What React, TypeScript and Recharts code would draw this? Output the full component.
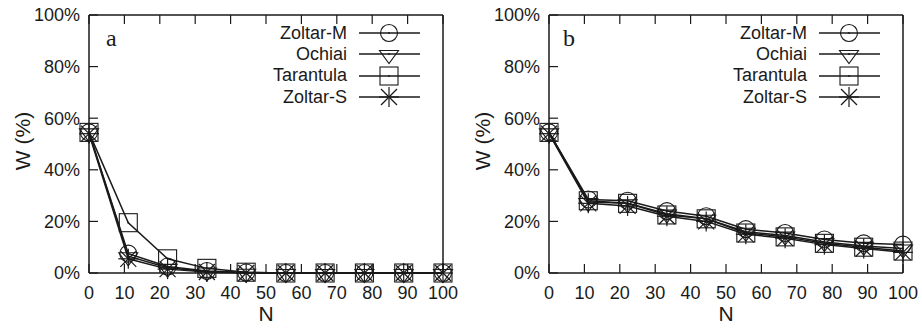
import React from 'react';
import { LineChart, Line, XAxis, YAxis, Legend } from 'recharts';

// N positions of the samples and the axis ticks
const N_VALUES = [0, 11.1, 22.2, 33.3, 44.4, 55.6, 66.7, 77.8, 88.9, 100];
const X_TICKS = [0, 10, 20, 30, 40, 50, 60, 70, 80, 90, 100];
const Y_TICKS = [0, 20, 40, 60, 80, 100];

// panel a
const A_ZOLTAR_M = [54.5, 7.5, 2.5, 0.8, 0.2, 0, 0, 0, 0, 0];
const A_OCHIAI = [54.5, 6.5, 2, 0.6, 0.1, 0, 0, 0, 0, 0];
const A_TARANTULA = [54.5, 19.5, 5.5, 1.8, 0.3, 0, 0, 0, 0, 0];
const A_ZOLTAR_S = [54, 5.5, 1.5, 0.4, 0, 0, 0, 0, 0, 0];

// panel b
const B_ZOLTAR_M = [54.5, 28.5, 28, 24, 22, 17, 15.5, 13, 11.5, 11];
const B_OCHIAI = [54.5, 27.5, 27, 23, 21, 16, 14.5, 12, 10.5, 9.5];
const B_TARANTULA = [54.5, 28, 27, 22.5, 21, 15.5, 14, 11.5, 10, 8.5];
const B_ZOLTAR_S = [54, 27, 26, 22, 20, 15, 13.5, 11, 9.5, 8];

type Shape = 'circle' | 'triangle' | 'square' | 'star';

const SERIES: { key: string; name: string; shape: Shape }[] = [
  { key: 'zoltarM', name: 'Zoltar-M', shape: 'circle' },
  { key: 'ochiai', name: 'Ochiai', shape: 'triangle' },
  { key: 'tarantula', name: 'Tarantula', shape: 'square' },
  { key: 'zoltarS', name: 'Zoltar-S', shape: 'star' },
];

const INK = '#1a1a1a';
const FONT = 'Arial, Helvetica, sans-serif';

const buildRows = (zm: number[], oc: number[], ta: number[], zs: number[]) =>
  N_VALUES.map((n, i) => ({
    n,
    zoltarM: zm[i],
    ochiai: oc[i],
    tarantula: ta[i],
    zoltarS: zs[i],
  }));

const dataA = buildRows(A_ZOLTAR_M, A_OCHIAI, A_TARANTULA, A_ZOLTAR_S);
const dataB = buildRows(B_ZOLTAR_M, B_OCHIAI, B_TARANTULA, B_ZOLTAR_S);

const noLabel = () => '';

function Marker({ shape, cx, cy }: { shape: Shape; cx: number; cy: number }) {
  const common = { fill: 'none', stroke: INK, strokeWidth: 1.1 };
  const dot = <circle cx={cx} cy={cy} r={0.9} fill={INK} />;
  if (shape === 'circle') {
    return (
      <g>
        <circle cx={cx} cy={cy} r={8.5} {...common} />
        {dot}
      </g>
    );
  }
  if (shape === 'triangle') {
    return (
      <g>
        <polygon
          points={`${cx - 9.5},${cy - 3.5} ${cx + 9.5},${cy - 3.5} ${cx},${cy + 9.5}`}
          {...common}
        />
        {dot}
      </g>
    );
  }
  if (shape === 'square') {
    return (
      <g>
        <rect x={cx - 9} y={cy - 9} width={18} height={18} {...common} />
        {dot}
      </g>
    );
  }
  return (
    <g stroke={INK} strokeWidth={1.2}>
      <line x1={cx - 10} y1={cy} x2={cx + 10} y2={cy} />
      <line x1={cx} y1={cy - 10} x2={cx} y2={cy + 10} />
      <line x1={cx - 8} y1={cy - 8} x2={cx + 8} y2={cy + 8} />
      <line x1={cx - 8} y1={cy + 8} x2={cx + 8} y2={cy - 8} />
    </g>
  );
}

function KeyBox() {
  return (
    <div style={{ fontFamily: FONT, fontSize: 18, color: INK }}>
      {SERIES.map((s) => (
        <div key={s.key} style={{ display: 'flex', alignItems: 'center', height: 21.3 }}>
          <span style={{ width: 87, textAlign: 'right', lineHeight: '21px', whiteSpace: 'nowrap' }}>
            {s.name}
          </span>
          <svg width={75} height={22} style={{ marginLeft: 12 }}>
            <line x1={0} y1={11} x2={61} y2={11} stroke={INK} strokeWidth={1.4} />
            <Marker shape={s.shape} cx={30} cy={11} />
          </svg>
        </div>
      ))}
    </div>
  );
}

function Panel({ data, letter, shift }: { data: any[]; letter: string; shift: number }) {
  const tickStyle = { fontSize: 18, fill: INK, fontFamily: FONT };
  const lineStyle = { stroke: INK, strokeWidth: 1.2 };
  const frameStyle = { stroke: INK, strokeWidth: 1.5 };
  return (
    <div style={{ position: 'relative', width: 461, height: 329 }}>
      <LineChart
        width={461}
        height={329}
        data={data}
        margin={{ top: 14, right: 17 + shift, bottom: 0, left: 9 - shift }}
      >
        <XAxis
          dataKey="n"
          type="number"
          domain={[0, 100]}
          ticks={X_TICKS}
          interval={0}
          height={56}
          tickSize={-9}
          tickMargin={22}
          tick={tickStyle}
          tickLine={lineStyle}
          axisLine={frameStyle}
          label={(props: any) => {
            const vb = props.viewBox;
            return (
              <text
                x={vb.x + vb.width / 2}
                y={vb.y + 47.5}
                textAnchor="middle"
                fontSize={21}
                fontFamily={FONT}
                fill={INK}
              >
                N
              </text>
            );
          }}
        />
        {/* mirrored frame: top and right axes carry inward ticks only */}
        <XAxis
          xAxisId="top"
          orientation="top"
          dataKey="n"
          type="number"
          domain={[0, 100]}
          ticks={X_TICKS}
          interval={0}
          height={1}
          tickSize={-9}
          tickFormatter={noLabel}
          tickLine={lineStyle}
          axisLine={frameStyle}
        />
        <YAxis
          type="number"
          domain={[0, 100]}
          ticks={Y_TICKS}
          interval={0}
          width={80}
          tickSize={-9}
          tickMargin={18}
          tick={tickStyle}
          tickFormatter={(v: number) => `${v}%`}
          tickLine={lineStyle}
          axisLine={frameStyle}
          label={(props: any) => {
            const vb = props.viewBox;
            const x = vb.x + 13;
            const y = vb.y + vb.height / 2 - 3;
            return (
              <text
                x={x}
                y={y}
                transform={`rotate(-90 ${x} ${y})`}
                textAnchor="middle"
                dominantBaseline="central"
                fontSize={21}
                fontFamily={FONT}
                fill={INK}
              >
                W (%)
              </text>
            );
          }}
        />
        <YAxis
          yAxisId="right"
          orientation="right"
          type="number"
          domain={[0, 100]}
          ticks={Y_TICKS}
          interval={0}
          width={1}
          tickSize={-9}
          tickFormatter={noLabel}
          tickLine={lineStyle}
          axisLine={frameStyle}
        />
        <Legend
          layout="vertical"
          align="center"
          verticalAlign="middle"
          content={() => <KeyBox />}
          wrapperStyle={{ top: 22.5, left: 260 - shift, width: 180, height: 90 }}
        />
        {SERIES.map((s) => (
          <Line
            key={s.key}
            dataKey={s.key}
            name={s.name}
            type="linear"
            stroke={INK}
            strokeWidth={1.5}
            isAnimationActive={false}
            dot={(p: any) => (
              <Marker key={`${s.key}-${p.index}`} shape={s.shape} cx={p.cx} cy={p.cy} />
            )}
            activeDot={false}
          />
        ))}
      </LineChart>
      <div
        style={{
          position: 'absolute',
          left: 106 - shift * 4,
          top: 26,
          fontFamily: '"Liberation Serif", "Times New Roman", serif',
          fontSize: 24,
          lineHeight: '24px',
          color: INK,
        }}
      >
        {letter}
      </div>
    </div>
  );
}

export default function App() {
  return (
    <div
      style={{
        position: 'absolute',
        left: 0,
        top: 0,
        width: 922,
        height: 329,
        background: '#fff',
        display: 'flex',
      }}
    >
      <Panel data={dataA} letter="a" shift={0} />
      <Panel data={dataB} letter="b" shift={1} />
    </div>
  );
}
